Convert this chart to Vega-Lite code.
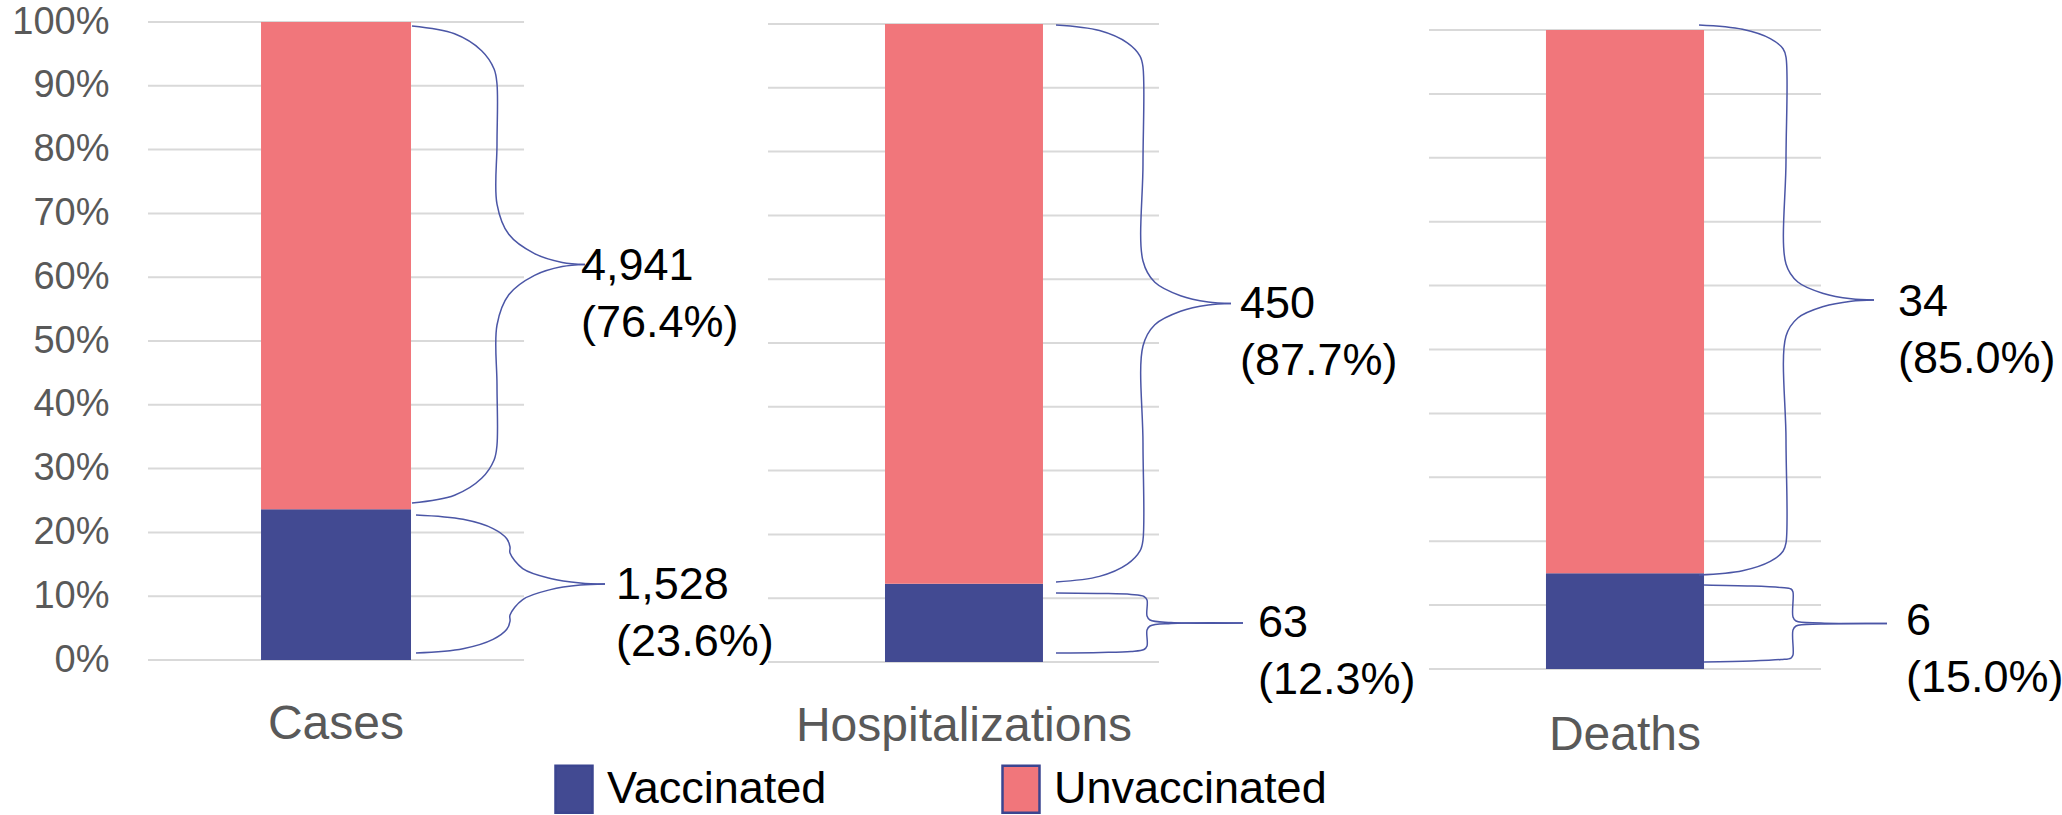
{
"$schema": "https://vega.github.io/schema/vega-lite/v6.json",
"padding": {"left": 11, "top": 3, "right": 0, "bottom": 0},
"bounds": "flush",
"spacing": 0,
"config": {"view": {"stroke": null}, "font": "Liberation Sans", "axis": {"grid": false, "ticks": false, "domain": false}},
"resolve": {"scale": {"color": "shared", "x": "independent", "y": "independent"}},
"datasets": {
"bars": [
{"metric":"Cases","status":"Vaccinated","count":1528},
{"metric":"Cases","status":"Unvaccinated","count":4941},
{"metric":"Hospitalizations","status":"Vaccinated","count":63},
{"metric":"Hospitalizations","status":"Unvaccinated","count":450},
{"metric":"Deaths","status":"Vaccinated","count":6},
{"metric":"Deaths","status":"Unvaccinated","count":34}
],
"grid": [{"v":0},{"v":0.1},{"v":0.2},{"v":0.3},{"v":0.4},{"v":0.5},{"v":0.6},{"v":0.7},{"v":0.8},{"v":0.9},{"v":1}],
"braces": [
{"metric":"Cases","part":"u1","bx":42.58,"by":0.9937},{"metric":"Cases","part":"u1","bx":49.44,"by":0.9815},{"metric":"Cases","part":"u1","bx":53.81,"by":0.955},{"metric":"Cases","part":"u1","bx":55.82,"by":0.9263},{"metric":"Cases","part":"u1","bx":56.29,"by":0.9028},{"metric":"Cases","part":"u1","bx":56.29,"by":0.8088},{"metric":"Cases","part":"u1","bx":56.29,"by":0.7147},{"metric":"Cases","part":"u1","bx":58.19,"by":0.6672},{"metric":"Cases","part":"u1","bx":62.34,"by":0.637},{"metric":"Cases","part":"u1","bx":66.81,"by":0.6232},{"metric":"Cases","part":"u1","bx":70.48,"by":0.6199},
{"metric":"Cases","part":"u2","bx":70.48,"by":0.6199},{"metric":"Cases","part":"u2","bx":66.81,"by":0.6166},{"metric":"Cases","part":"u2","bx":62.34,"by":0.6028},{"metric":"Cases","part":"u2","bx":58.19,"by":0.5724},{"metric":"Cases","part":"u2","bx":56.29,"by":0.5251},{"metric":"Cases","part":"u2","bx":56.29,"by":0.431},{"metric":"Cases","part":"u2","bx":56.29,"by":0.337},{"metric":"Cases","part":"u2","bx":55.82,"by":0.3135},{"metric":"Cases","part":"u2","bx":53.81,"by":0.2848},{"metric":"Cases","part":"u2","bx":49.44,"by":0.2583},{"metric":"Cases","part":"u2","bx":42.58,"by":0.2461},
{"metric":"Cases","part":"v1","bx":43.23,"by":0.2273},{"metric":"Cases","part":"v1","bx":50.81,"by":0.2205},{"metric":"Cases","part":"v1","bx":55.65,"by":0.206},{"metric":"Cases","part":"v1","bx":57.87,"by":0.1901},{"metric":"Cases","part":"v1","bx":58.39,"by":0.1771},{"metric":"Cases","part":"v1","bx":58.39,"by":0.1677},{"metric":"Cases","part":"v1","bx":60.44,"by":0.1434},{"metric":"Cases","part":"v1","bx":64.92,"by":0.1279},{"metric":"Cases","part":"v1","bx":69.74,"by":0.1208},{"metric":"Cases","part":"v1","bx":73.71,"by":0.1191},
{"metric":"Cases","part":"v2","bx":73.71,"by":0.1191},{"metric":"Cases","part":"v2","bx":69.74,"by":0.1174},{"metric":"Cases","part":"v2","bx":64.92,"by":0.1103},{"metric":"Cases","part":"v2","bx":60.44,"by":0.0948},{"metric":"Cases","part":"v2","bx":58.39,"by":0.0705},{"metric":"Cases","part":"v2","bx":58.39,"by":0.0611},{"metric":"Cases","part":"v2","bx":57.87,"by":0.0481},{"metric":"Cases","part":"v2","bx":55.65,"by":0.0323},{"metric":"Cases","part":"v2","bx":50.81,"by":0.0177},{"metric":"Cases","part":"v2","bx":43.23,"by":0.011},
{"metric":"Hospitalizations","part":"u1","bx":43.57,"by":0.9984},{"metric":"Hospitalizations","part":"u1","bx":50.15,"by":0.9897},{"metric":"Hospitalizations","part":"u1","bx":54.36,"by":0.9704},{"metric":"Hospitalizations","part":"u1","bx":56.28,"by":0.9497},{"metric":"Hospitalizations","part":"u1","bx":56.73,"by":0.9326},{"metric":"Hospitalizations","part":"u1","bx":56.73,"by":0.7806},{"metric":"Hospitalizations","part":"u1","bx":56.73,"by":0.6285},{"metric":"Hospitalizations","part":"u1","bx":58.52,"by":0.5951},{"metric":"Hospitalizations","part":"u1","bx":62.41,"by":0.574},{"metric":"Hospitalizations","part":"u1","bx":66.6,"by":0.5641},{"metric":"Hospitalizations","part":"u1","bx":70.05,"by":0.5619},
{"metric":"Hospitalizations","part":"u2","bx":70.05,"by":0.5619},{"metric":"Hospitalizations","part":"u2","bx":66.6,"by":0.5597},{"metric":"Hospitalizations","part":"u2","bx":62.41,"by":0.5498},{"metric":"Hospitalizations","part":"u2","bx":58.52,"by":0.5287},{"metric":"Hospitalizations","part":"u2","bx":56.73,"by":0.4953},{"metric":"Hospitalizations","part":"u2","bx":56.73,"by":0.3433},{"metric":"Hospitalizations","part":"u2","bx":56.73,"by":0.1912},{"metric":"Hospitalizations","part":"u2","bx":56.28,"by":0.1741},{"metric":"Hospitalizations","part":"u2","bx":54.36,"by":0.1534},{"metric":"Hospitalizations","part":"u2","bx":50.15,"by":0.1342},{"metric":"Hospitalizations","part":"u2","bx":43.57,"by":0.1254},
{"metric":"Hospitalizations","part":"v1","bx":43.57,"by":0.1082},{"metric":"Hospitalizations","part":"v1","bx":50.38,"by":0.1074},{"metric":"Hospitalizations","part":"v1","bx":54.92,"by":0.1058},{"metric":"Hospitalizations","part":"v1","bx":56.88,"by":0.1027},{"metric":"Hospitalizations","part":"v1","bx":57.34,"by":0.0972},{"metric":"Hospitalizations","part":"v1","bx":57.34,"by":0.0721},{"metric":"Hospitalizations","part":"v1","bx":57.79,"by":0.0658},{"metric":"Hospitalizations","part":"v1","bx":60.97,"by":0.0619},{"metric":"Hospitalizations","part":"v1","bx":71.86,"by":0.0611},
{"metric":"Hospitalizations","part":"v2","bx":71.86,"by":0.0611},{"metric":"Hospitalizations","part":"v2","bx":60.97,"by":0.0603},{"metric":"Hospitalizations","part":"v2","bx":57.79,"by":0.0564},{"metric":"Hospitalizations","part":"v2","bx":57.34,"by":0.0502},{"metric":"Hospitalizations","part":"v2","bx":57.34,"by":0.0251},{"metric":"Hospitalizations","part":"v2","bx":56.88,"by":0.0196},{"metric":"Hospitalizations","part":"v2","bx":54.92,"by":0.0165},{"metric":"Hospitalizations","part":"v2","bx":50.38,"by":0.0149},{"metric":"Hospitalizations","part":"v2","bx":43.57,"by":0.0141},
{"metric":"Deaths","part":"u1","bx":42.59,"by":1.0078},{"metric":"Deaths","part":"u1","bx":49.45,"by":1.0011},{"metric":"Deaths","part":"u1","bx":53.83,"by":0.9865},{"metric":"Deaths","part":"u1","bx":55.84,"by":0.9707},{"metric":"Deaths","part":"u1","bx":56.31,"by":0.9577},{"metric":"Deaths","part":"u1","bx":56.31,"by":0.7966},{"metric":"Deaths","part":"u1","bx":56.31,"by":0.6338},{"metric":"Deaths","part":"u1","bx":58.17,"by":0.6056},{"metric":"Deaths","part":"u1","bx":62.22,"by":0.5876},{"metric":"Deaths","part":"u1","bx":66.59,"by":0.5793},{"metric":"Deaths","part":"u1","bx":70.19,"by":0.5775},
{"metric":"Deaths","part":"u2","bx":70.19,"by":0.5775},{"metric":"Deaths","part":"u2","bx":66.59,"by":0.5756},{"metric":"Deaths","part":"u2","bx":62.22,"by":0.5673},{"metric":"Deaths","part":"u2","bx":58.17,"by":0.5493},{"metric":"Deaths","part":"u2","bx":56.31,"by":0.5211},{"metric":"Deaths","part":"u2","bx":56.31,"by":0.3584},{"metric":"Deaths","part":"u2","bx":56.31,"by":0.1972},{"metric":"Deaths","part":"u2","bx":55.84,"by":0.1842},{"metric":"Deaths","part":"u2","bx":53.83,"by":0.1684},{"metric":"Deaths","part":"u2","bx":49.45,"by":0.1538},{"metric":"Deaths","part":"u2","bx":42.59,"by":0.1471},
{"metric":"Deaths","part":"v1","bx":43.38,"by":0.1315},{"metric":"Deaths","part":"v1","bx":50.79,"by":0.1299},{"metric":"Deaths","part":"v1","bx":55.52,"by":0.1275},{"metric":"Deaths","part":"v1","bx":57.1,"by":0.1252},{"metric":"Deaths","part":"v1","bx":57.41,"by":0.1205},{"metric":"Deaths","part":"v1","bx":57.41,"by":0.0814},{"metric":"Deaths","part":"v1","bx":57.89,"by":0.0751},{"metric":"Deaths","part":"v1","bx":61.83,"by":0.072},{"metric":"Deaths","part":"v1","bx":72.24,"by":0.0712},
{"metric":"Deaths","part":"v2","bx":72.24,"by":0.0712},{"metric":"Deaths","part":"v2","bx":61.83,"by":0.0704},{"metric":"Deaths","part":"v2","bx":57.89,"by":0.0673},{"metric":"Deaths","part":"v2","bx":57.41,"by":0.061},{"metric":"Deaths","part":"v2","bx":57.41,"by":0.0219},{"metric":"Deaths","part":"v2","bx":57.1,"by":0.0172},{"metric":"Deaths","part":"v2","bx":55.52,"by":0.0149},{"metric":"Deaths","part":"v2","bx":50.79,"by":0.0125},{"metric":"Deaths","part":"v2","bx":43.38,"by":0.011}
]
},
"hconcat": [
{
"width": 620, "height": 648,
"layer": [
{"data": {"name": "grid"}, "mark": {"type": "rule", "color": "#D9D9D9", "strokeWidth": 2},
 "encoding": {
  "y": {"field": "v", "type": "quantitative", "scale": {"domain": [-0.01567, 1], "nice": false, "zero": false},
        "axis": {"values": [0,0.1,0.2,0.3,0.4,0.5,0.6,0.7,0.8,0.9,1], "format": ".0%", "title": null, "labelFontSize": 38, "labelColor": "#595959", "labelPadding": 39, "labelFont": "Liberation Sans"}},
  "x": {"datum": 0, "type": "quantitative", "scale": {"domain": [0, 100], "nice": false, "zero": false}, "axis": null},
  "x2": {"datum": 60.65}}},
{"data": {"name": "bars"},
 "transform": [{"filter": "datum.metric === 'Cases'"},
  {"stack": "count", "groupby": ["metric"], "sort": [{"field": "status", "order": "descending"}], "offset": "normalize", "as": ["s0", "s1"]}],
 "mark": {"type": "rect"},
 "encoding": {
  "x": {"datum": 18.23, "type": "quantitative", "axis": null},
  "x2": {"datum": 42.42},
  "y": {"field": "s0", "type": "quantitative", "axis": {"values": [0,0.1,0.2,0.3,0.4,0.5,0.6,0.7,0.8,0.9,1], "format": ".0%", "title": null, "labelFontSize": 38, "labelColor": "#595959", "labelPadding": 39, "labelFont": "Liberation Sans"}},
  "y2": {"field": "s1"},
  "color": {"field": "status", "type": "nominal",
   "scale": {"domain": ["Vaccinated", "Unvaccinated"], "range": ["#424A92", "#F1767B"]},
   "legend": {"orient": "none", "legendX": 401, "legendY": 742, "direction": "horizontal", "title": null,
    "symbolType": "M-0.787,-1H0.787V1H-0.787Z", "symbolSize": 2209, "symbolStrokeColor": "#3B4590", "symbolStrokeWidth": 2.5, "symbolOpacity": 1,
    "labelFontSize": 45, "labelColor": "#000000", "labelFont": "Liberation Sans", "labelOffset": 8, "columnPadding": 169, "labelLimit": 500, "padding": 0,
    "encode": {"symbols": {"update": {"stroke": {"value": "#3B4590"}, "strokeWidth": {"value": 2.5}}}}}}}},
{"data": {"name": "braces"}, "transform": [{"filter": "datum.metric === 'Cases'"}],
 "mark": {"type": "line", "interpolate": "catmull-rom", "color": "#4B56A6", "strokeWidth": 1.5},
 "encoding": {"x": {"field": "bx", "type": "quantitative", "axis": null}, "y": {"field": "by", "type": "quantitative", "axis": {"values": [0,0.1,0.2,0.3,0.4,0.5,0.6,0.7,0.8,0.9,1], "format": ".0%", "title": null, "labelFontSize": 38, "labelColor": "#595959", "labelPadding": 39, "labelFont": "Liberation Sans"}}, "detail": {"field": "part", "type": "nominal"}, "order": {"value": null}}},
{"data": {"name": "bars"},
 "transform": [{"filter": "datum.metric === 'Cases'"},
  {"stack": "count", "groupby": ["metric"], "sort": [{"field": "status", "order": "descending"}], "offset": "normalize", "as": ["s0", "s1"]},
  {"calculate": "(datum.s0 + datum.s1) / 2", "as": "mid"},
  {"calculate": "[format(datum.count, ','), '(' + format(datum.s1 - datum.s0, '.1%') + ')']", "as": "label"},
  {"filter": "datum.status === 'Unvaccinated'"}],
 "mark": {"type": "text", "align": "left", "baseline": "middle", "fontSize": 45, "lineHeight": 57, "font": "Liberation Sans", "color": "#000000"},
 "encoding": {"x": {"datum": 69.84, "type": "quantitative", "axis": null}, "y": {"field": "mid", "type": "quantitative", "axis": {"values": [0,0.1,0.2,0.3,0.4,0.5,0.6,0.7,0.8,0.9,1], "format": ".0%", "title": null, "labelFontSize": 38, "labelColor": "#595959", "labelPadding": 39, "labelFont": "Liberation Sans"}}, "text": {"field": "label"}}},
{"data": {"name": "bars"},
 "transform": [{"filter": "datum.metric === 'Cases'"},
  {"stack": "count", "groupby": ["metric"], "sort": [{"field": "status", "order": "descending"}], "offset": "normalize", "as": ["s0", "s1"]},
  {"calculate": "(datum.s0 + datum.s1) / 2", "as": "mid"},
  {"calculate": "[format(datum.count, ','), '(' + format(datum.s1 - datum.s0, '.1%') + ')']", "as": "label"},
  {"filter": "datum.status === 'Vaccinated'"}],
 "mark": {"type": "text", "align": "left", "baseline": "middle", "fontSize": 45, "lineHeight": 57, "font": "Liberation Sans", "color": "#000000"},
 "encoding": {"x": {"datum": 75.5, "type": "quantitative", "axis": null}, "y": {"field": "mid", "type": "quantitative", "axis": {"values": [0,0.1,0.2,0.3,0.4,0.5,0.6,0.7,0.8,0.9,1], "format": ".0%", "title": null, "labelFontSize": 38, "labelColor": "#595959", "labelPadding": 39, "labelFont": "Liberation Sans"}}, "text": {"field": "label"}}},
{"data": {"name": "bars"},
 "transform": [{"filter": "datum.metric === 'Cases' && datum.status === 'Vaccinated'"}],
 "mark": {"type": "text", "align": "center", "baseline": "middle", "fontSize": 48, "font": "Liberation Sans", "color": "#595959"},
 "encoding": {"x": {"datum": 30.32, "type": "quantitative", "axis": null}, "y": {"datum": -0.1019, "type": "quantitative", "axis": {"values": [0,0.1,0.2,0.3,0.4,0.5,0.6,0.7,0.8,0.9,1], "format": ".0%", "title": null, "labelFontSize": 38, "labelColor": "#595959", "labelPadding": 39, "labelFont": "Liberation Sans"}}, "text": {"field": "metric"}}}
]
},
{
"width": 661, "height": 648,
"layer": [
{"data": {"name": "grid"}, "mark": {"type": "rule", "color": "#D9D9D9", "strokeWidth": 2},
 "encoding": {
  "y": {"field": "v", "type": "quantitative", "scale": {"domain": [-0.01254, 1.00313], "nice": false, "zero": false}, "axis": null},
  "x": {"datum": 0, "type": "quantitative", "scale": {"domain": [0, 100], "nice": false, "zero": false}, "axis": null},
  "x2": {"datum": 59.15}}},
{"data": {"name": "bars"},
 "transform": [{"filter": "datum.metric === 'Hospitalizations'"},
  {"stack": "count", "groupby": ["metric"], "sort": [{"field": "status", "order": "descending"}], "offset": "normalize", "as": ["s0", "s1"]}],
 "mark": {"type": "rect"},
 "encoding": {
  "x": {"datum": 17.7, "type": "quantitative", "axis": null},
  "x2": {"datum": 41.6},
  "y": {"field": "s0", "type": "quantitative", "axis": null},
  "y2": {"field": "s1"},
  "color": {"field": "status", "type": "nominal"}}},
{"data": {"name": "braces"}, "transform": [{"filter": "datum.metric === 'Hospitalizations'"}],
 "mark": {"type": "line", "interpolate": "catmull-rom", "color": "#4B56A6", "strokeWidth": 1.5},
 "encoding": {"x": {"field": "bx", "type": "quantitative", "axis": null}, "y": {"field": "by", "type": "quantitative", "axis": null}, "detail": {"field": "part", "type": "nominal"}, "order": {"value": null}}},
{"data": {"name": "bars"},
 "transform": [{"filter": "datum.metric === 'Hospitalizations'"},
  {"stack": "count", "groupby": ["metric"], "sort": [{"field": "status", "order": "descending"}], "offset": "normalize", "as": ["s0", "s1"]},
  {"calculate": "(datum.s0 + datum.s1) / 2", "as": "mid"},
  {"calculate": "[format(datum.count, ','), '(' + format(datum.s1 - datum.s0, '.1%') + ')']", "as": "label"},
  {"filter": "datum.status === 'Unvaccinated'"}],
 "mark": {"type": "text", "align": "left", "baseline": "middle", "fontSize": 45, "lineHeight": 57, "font": "Liberation Sans", "color": "#000000"},
 "encoding": {"x": {"datum": 71.41, "type": "quantitative", "axis": null}, "y": {"field": "mid", "type": "quantitative", "axis": null}, "text": {"field": "label"}}},
{"data": {"name": "bars"},
 "transform": [{"filter": "datum.metric === 'Hospitalizations'"},
  {"stack": "count", "groupby": ["metric"], "sort": [{"field": "status", "order": "descending"}], "offset": "normalize", "as": ["s0", "s1"]},
  {"calculate": "(datum.s0 + datum.s1) / 2", "as": "mid"},
  {"calculate": "[format(datum.count, ','), '(' + format(datum.s1 - datum.s0, '.1%') + ')']", "as": "label"},
  {"filter": "datum.status === 'Vaccinated'"}],
 "mark": {"type": "text", "align": "left", "baseline": "middle", "fontSize": 45, "lineHeight": 57, "font": "Liberation Sans", "color": "#000000"},
 "encoding": {"x": {"datum": 74.13, "type": "quantitative", "axis": null}, "y": {"field": "mid", "type": "quantitative", "axis": null}, "text": {"field": "label"}}},
{"data": {"name": "bars"},
 "transform": [{"filter": "datum.metric === 'Hospitalizations' && datum.status === 'Vaccinated'"}],
 "mark": {"type": "text", "align": "center", "baseline": "middle", "fontSize": 48, "font": "Liberation Sans", "color": "#595959"},
 "encoding": {"x": {"datum": 29.65, "type": "quantitative", "axis": null}, "y": {"datum": -0.1019, "type": "quantitative", "axis": null}, "text": {"field": "metric"}}}
]
},
{
"width": 634, "height": 648,
"layer": [
{"data": {"name": "grid"}, "mark": {"type": "rule", "color": "#D9D9D9", "strokeWidth": 2},
 "encoding": {
  "y": {"field": "v", "type": "quantitative", "scale": {"domain": [-0.00156, 1.01252], "nice": false, "zero": false}, "axis": null},
  "x": {"datum": 0, "type": "quantitative", "scale": {"domain": [0, 100], "nice": false, "zero": false}, "axis": null},
  "x2": {"datum": 61.83}}},
{"data": {"name": "bars"},
 "transform": [{"filter": "datum.metric === 'Deaths'"},
  {"stack": "count", "groupby": ["metric"], "sort": [{"field": "status", "order": "descending"}], "offset": "normalize", "as": ["s0", "s1"]}],
 "mark": {"type": "rect"},
 "encoding": {
  "x": {"datum": 18.45, "type": "quantitative", "axis": null},
  "x2": {"datum": 43.38},
  "y": {"field": "s0", "type": "quantitative", "axis": null},
  "y2": {"field": "s1"},
  "color": {"field": "status", "type": "nominal"}}},
{"data": {"name": "braces"}, "transform": [{"filter": "datum.metric === 'Deaths'"}],
 "mark": {"type": "line", "interpolate": "catmull-rom", "color": "#4B56A6", "strokeWidth": 1.5},
 "encoding": {"x": {"field": "bx", "type": "quantitative", "axis": null}, "y": {"field": "by", "type": "quantitative", "axis": null}, "detail": {"field": "part", "type": "nominal"}, "order": {"value": null}}},
{"data": {"name": "bars"},
 "transform": [{"filter": "datum.metric === 'Deaths'"},
  {"stack": "count", "groupby": ["metric"], "sort": [{"field": "status", "order": "descending"}], "offset": "normalize", "as": ["s0", "s1"]},
  {"calculate": "(datum.s0 + datum.s1) / 2", "as": "mid"},
  {"calculate": "[format(datum.count, ','), '(' + format(datum.s1 - datum.s0, '.1%') + ')']", "as": "label"},
  {"filter": "datum.status === 'Unvaccinated'"}],
 "mark": {"type": "text", "align": "left", "baseline": "middle", "fontSize": 45, "lineHeight": 57, "font": "Liberation Sans", "color": "#000000"},
 "encoding": {"x": {"datum": 73.97, "type": "quantitative", "axis": null}, "y": {"field": "mid", "type": "quantitative", "axis": null}, "text": {"field": "label"}}},
{"data": {"name": "bars"},
 "transform": [{"filter": "datum.metric === 'Deaths'"},
  {"stack": "count", "groupby": ["metric"], "sort": [{"field": "status", "order": "descending"}], "offset": "normalize", "as": ["s0", "s1"]},
  {"calculate": "(datum.s0 + datum.s1) / 2", "as": "mid"},
  {"calculate": "[format(datum.count, ','), '(' + format(datum.s1 - datum.s0, '.1%') + ')']", "as": "label"},
  {"filter": "datum.status === 'Vaccinated'"}],
 "mark": {"type": "text", "align": "left", "baseline": "middle", "fontSize": 45, "lineHeight": 57, "font": "Liberation Sans", "color": "#000000"},
 "encoding": {"x": {"datum": 75.24, "type": "quantitative", "axis": null}, "y": {"field": "mid", "type": "quantitative", "axis": null}, "text": {"field": "label"}}},
{"data": {"name": "bars"},
 "transform": [{"filter": "datum.metric === 'Deaths' && datum.status === 'Vaccinated'"}],
 "mark": {"type": "text", "align": "center", "baseline": "middle", "fontSize": 48, "font": "Liberation Sans", "color": "#595959"},
 "encoding": {"x": {"datum": 30.91, "type": "quantitative", "axis": null}, "y": {"datum": -0.1049, "type": "quantitative", "axis": null}, "text": {"field": "metric"}}}
]
}
]
}
